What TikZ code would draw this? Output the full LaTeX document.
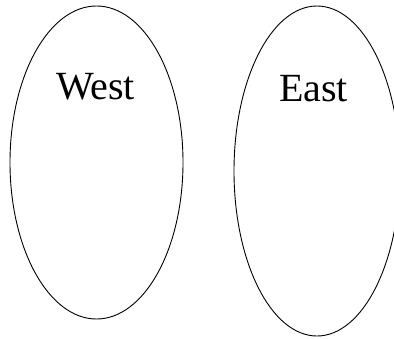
\documentclass[tikz,border=0pt]{standalone}
\usepackage{fontspec}
\setmainfont{Liberation Serif}
\begin{document}
\begin{tikzpicture}[x=1pt, y=-1pt, line width=0.9pt]
    % 画布
    \useasboundingbox (0,0) rectangle (394,338);
    \clip (0,0) rectangle (394,338);
    % 左边的椭圆
    \draw (96.5,162.5) ellipse (86.5 and 156.5);
    \node[anchor=base] (west) at (95.5,99) {\fontsize{40}{44}\selectfont West};
    
    % 右边的椭圆
    \draw (317,171) ellipse (83 and 165);
    \node[anchor=base] (east) at (313.5,101) {\fontsize{40}{44}\selectfont East};
\end{tikzpicture}
\end{document}
